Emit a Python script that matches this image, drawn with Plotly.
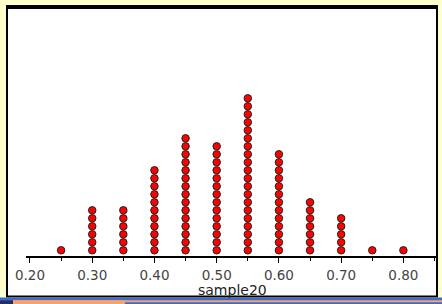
import plotly.graph_objects as go

# Data: dot plot of sample20 proportions
values = [0.25, 0.30, 0.35, 0.40, 0.45, 0.50, 0.55, 0.60, 0.65, 0.70, 0.75, 0.80]
counts = [1, 6, 6, 11, 15, 14, 20, 13, 7, 5, 1, 1]
tick_vals = [0.20, 0.30, 0.40, 0.50, 0.60, 0.70, 0.80]
tick_text = ["0.20", "0.30", "0.40", "0.50", "0.60", "0.70", "0.80"]
axis_title = "sample20"

xs, ys = [], []
for v, c in zip(values, counts):
    for k in range(1, c + 1):
        xs.append(v)
        ys.append(k)

fig = go.Figure()
fig.add_trace(go.Scatter(
    x=xs, y=ys, mode="markers",
    marker=dict(color="#FF0000", size=7.5, line=dict(color="#222222", width=1)),
    hoverinfo="skip", showlegend=False,
))

W, H = 442, 304
L, R, T, B = 26, 5, 8, 48
pw, ph = W - L - R, H - T - B

def px(x):
    return (x - L) / pw

def py(y):
    return (H - B - y) / ph

shapes = [
    dict(type="rect", xref="paper", yref="paper", layer="below",
         x0=px(7), x1=px(437), y0=py(296.5), y1=py(6),
         fillcolor="white", line=dict(color="black", width=2)),
    dict(type="rect", xref="paper", yref="paper", layer="below",
         x0=px(6), x1=px(438), y0=py(9), y1=py(5),
         fillcolor="black", line=dict(width=0)),
    dict(type="rect", xref="paper", yref="paper", layer="below",
         x0=px(0), x1=px(442), y0=py(304), y1=py(297.5),
         fillcolor="#3C6BC9", line=dict(width=0)),
    dict(type="rect", xref="paper", yref="paper", layer="below",
         x0=px(0), x1=px(442), y0=py(302.2), y1=py(300.2),
         fillcolor="#F4A46E", line=dict(width=0)),
    dict(type="rect", xref="paper", yref="paper", layer="below",
         x0=px(13), x1=px(125), y0=py(304), y1=py(300.2),
         fillcolor="#F4A46E", line=dict(width=0)),
    dict(type="rect", xref="paper", yref="paper", layer="below",
         x0=px(0), x1=px(13), y0=py(304), y1=py(300.2),
         fillcolor="#1F2F6B", line=dict(width=0)),
]

fig.update_layout(
    width=W, height=H,
    margin=dict(l=L, r=R, t=T, b=B, pad=0),
    paper_bgcolor="#FFFFCC",
    plot_bgcolor="rgba(0,0,0,0)",
    shapes=shapes,
    font=dict(family="DejaVu Sans", color="#333333"),
    annotations=[dict(text=axis_title, xref="paper", yref="paper",
                      x=px(232), y=py(289.5), xanchor="center", yanchor="middle",
                      showarrow=False, font=dict(size=14, color="#222222"))],
    xaxis=dict(
        range=[0.1936, 0.854],
        tickmode="array", tickvals=tick_vals, ticktext=tick_text,
        ticks="outside", ticklen=5, tickwidth=1, tickcolor="black",
        minor=dict(dtick=0.05, tick0=0.2, ticks="outside", ticklen=3, tickcolor="black", showgrid=False),
        showline=True, linecolor="black", linewidth=1.5,
        showgrid=False, zeroline=False,
        tickfont=dict(size=13.5, color="#444444"),
        ticklabelstandoff=1,
        fixedrange=True,
    ),
    yaxis=dict(
        range=[0.2875, 31.29], visible=False, showgrid=False, zeroline=False,
        fixedrange=True,
    ),
)

fig.write_html("out.html")
